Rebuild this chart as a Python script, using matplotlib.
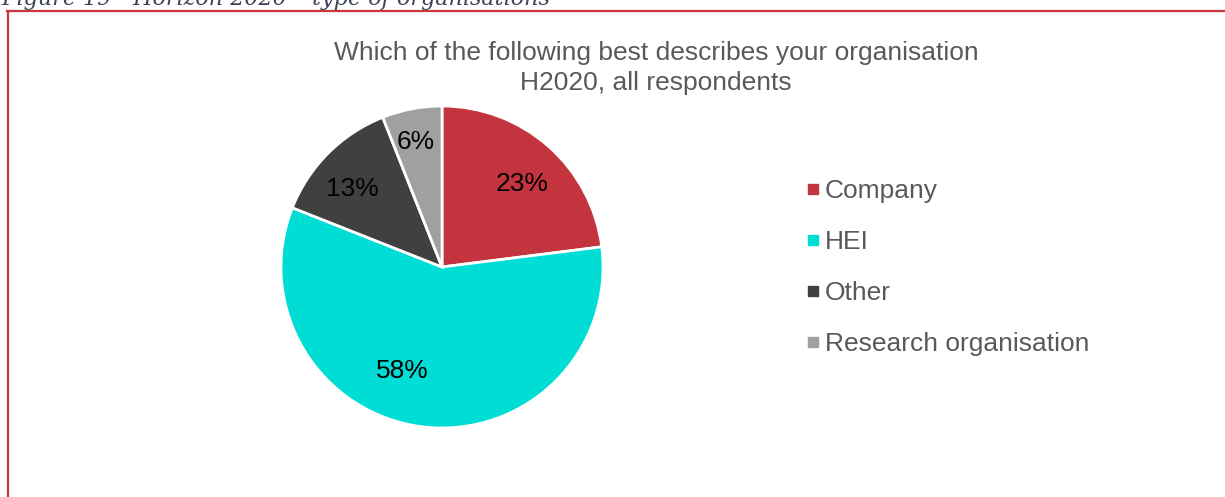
import matplotlib
matplotlib.use("Agg")
import matplotlib.pyplot as plt
from matplotlib.lines import Line2D
import numpy as np

categories = ["Company", "HEI", "Other", "Research organisation"]
shares = [23, 58, 13, 6]
colors = ["#C4343F", "#00DDD5", "#404040", "#A0A0A0"]

title = "Which of the following best describes your organisation\nH2020, all respondents"
caption = "Figure 19 - Horizon 2020 \u2013 type of organisations"

plt.rcParams["font.family"] = ["Liberation Sans", "DejaVu Sans"]

W, H = 1225, 497
fig = plt.figure(figsize=(W / 100, H / 100), dpi=100)
fig.patch.set_facecolor("white")

# frame around the chart (top and left edges in view)
frame_col = "#C8363F"
fig.add_artist(Line2D([7 / W, 1.0], [1 - 11 / H, 1 - 11 / H], color=frame_col, lw=1.6,
                      transform=fig.transFigure))
fig.add_artist(Line2D([8 / W, 8 / W], [0, 1 - 11 / H], color=frame_col, lw=1.6,
                      transform=fig.transFigure))

# caption above the frame
fig.text(1 / W, 1 - 5 / H, caption, fontsize=16, family=["DejaVu Serif"],
         style="italic", color="#3E4458", va="baseline", ha="left")

# chart title
fig.text(656 / W, 1 - 68 / H, title, fontsize=19, color="#595959",
         ha="center", va="center", linespacing=1.32)

# pie
cx, cy, r = 442, 267, 161
ax = fig.add_axes([(cx - r) / W, (H - cy - r) / H, 2 * r / W, 2 * r / H])
wedges, texts, autotexts = ax.pie(
    shares, colors=colors, startangle=90, counterclock=False,
    autopct=lambda p: f"{p:.0f}%", pctdistance=0.72,
    wedgeprops=dict(edgecolor="white", linewidth=2.0),
    textprops=dict(fontsize=19, color="black"))
# label placement: radius fraction and angular nudge per slice
label_radius = [0.716, 0.692, 0.74, 0.793]
label_nudge = [-2.6, -13.8, 4.1, 1.0]
for w, t, rr, dn in zip(wedges, autotexts, label_radius, label_nudge):
    ang = np.deg2rad((w.theta1 + w.theta2) / 2 + dn)
    t.set_position((rr * np.cos(ang), rr * np.sin(ang)))
ax.set_xlim(-1, 1)
ax.set_ylim(-1, 1)
ax.set_aspect("equal")
ax.axis("off")

# legend
handles = [Line2D([], [], marker="s", ls="", color=c, markersize=6.5) for c in colors]
leg = fig.legend(handles, categories, loc="upper left",
                 bbox_to_anchor=(805 / W, 1 - 179 / H), frameon=False,
                 fontsize=19, labelspacing=1.02, handlelength=0.6,
                 handletextpad=0.14, borderaxespad=0, borderpad=0)
for t in leg.get_texts():
    t.set_color("#595959")

fig.savefig("out.png", dpi=100, facecolor="white")
